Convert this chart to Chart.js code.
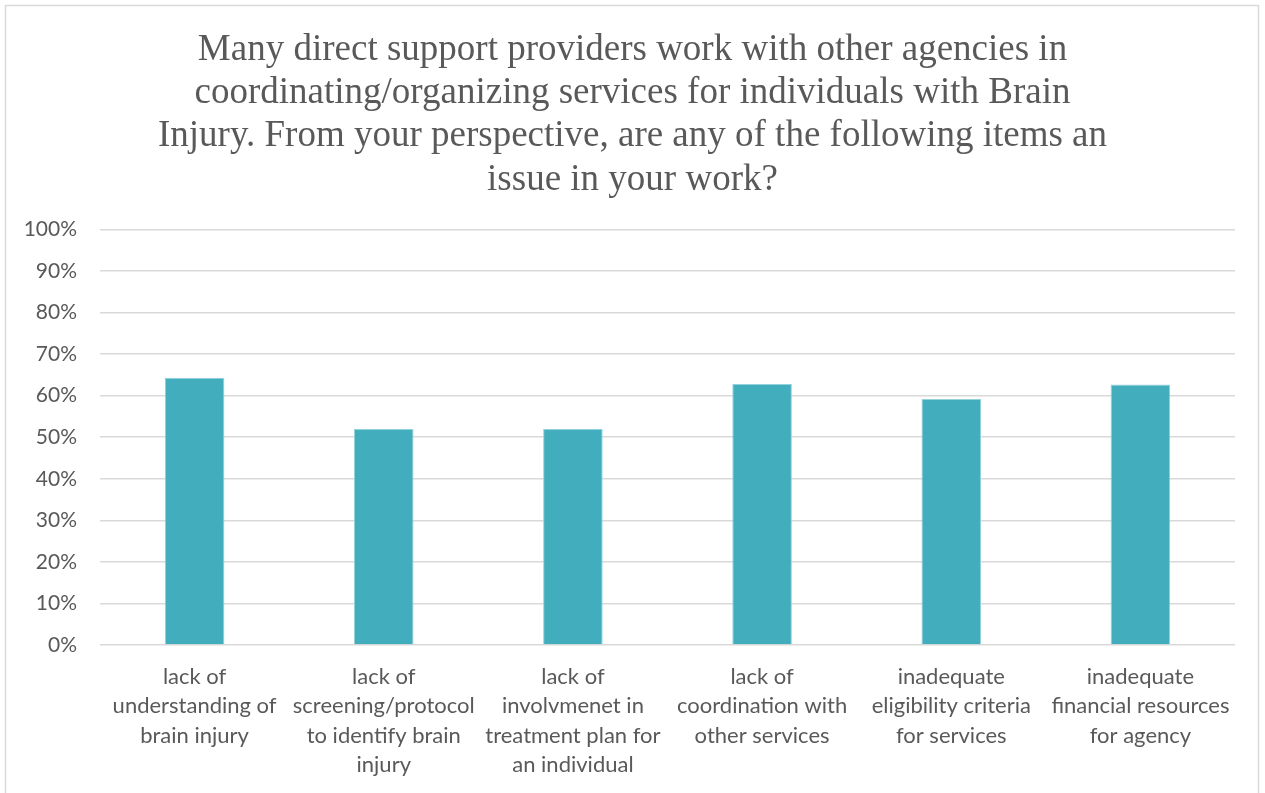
<!DOCTYPE html>
<html>
<head>
<meta charset="utf-8">
<script src="https://cdn.jsdelivr.net/npm/chart.js@4"></script>
<style>
    html, body { margin: 0; padding: 0; background: #fff; }
    #wrap { width: 1265px; height: 793px; }
</style>
</head>
<body>
<div id="wrap"><canvas id="myChart" width="1265" height="793"></canvas></div>
<script>
const titleLines = [
    'Many direct support providers work with other agencies in',
    'coordinating/organizing services for individuals with Brain',
    'Injury. From your perspective, are any of the following items an',
    'issue in your work?'
];

const categories = [
    ['lack of', 'understanding of', 'brain injury'],
    ['lack of', 'screening/protocol', 'to identify brain', 'injury'],
    ['lack of', 'involvmenet in', 'treatment plan for', 'an individual'],
    ['lack of', 'coordination with', 'other services'],
    ['inadequate', 'eligibility criteria', 'for services'],
    ['inadequate', 'financial resources', 'for agency']
];

const percentYes = [64.3, 52.0, 52.0, 62.8, 59.2, 62.7];

const yTicks = [0, 10, 20, 30, 40, 50, 60, 70, 80, 90, 100];

const textColor = '#595959';
const gridColor = '#d9d9d9';

// thin frame round the whole chart, open at the bottom
const framePlugin = {
    id: 'frame',
    beforeDraw(chart) {
        const ctx = chart.ctx;
        ctx.save();
        ctx.fillStyle = '#fff';
        ctx.fillRect(0, 0, chart.width, chart.height);
        ctx.strokeStyle = gridColor;
        ctx.lineWidth = 1.5;
        ctx.strokeRect(5.5, 5.5, 1253, 820);
        ctx.restore();
    }
};

const ctx = document.getElementById('myChart').getContext('2d');
const myChart = new Chart(ctx, {
    type: 'bar',
    data: {
        labels: categories,
        datasets: [{
            data: percentYes,
            backgroundColor: '#41adbd',
            borderColor: '#93d2dc',
            borderWidth: 1,
            barPercentage: 0.315,
            categoryPercentage: 1
        }]
    },
    options: {
        responsive: false,
        animation: false,
        layout: { padding: 0 },
        plugins: {
            legend: { display: false },
            tooltip: { enabled: false },
            title: {
                display: true,
                text: titleLines,
                color: textColor,
                font: { family: '"Liberation Serif", "Times New Roman", serif', size: 37, weight: 'normal', lineHeight: 1.165 },
                padding: { top: 29, bottom: 28 }
            }
        },
        scales: {
            x: {
                grid: { display: false },
                border: { display: false },
                ticks: {
                    color: textColor,
                    font: { family: 'Lato, sans-serif', size: 22, lineHeight: 1.34 },
                    padding: 9,
                    maxRotation: 0,
                    autoSkip: false
                },
                afterFit(scale) { scale.height = 148; }
            },
            y: {
                min: 0,
                max: 100,
                afterBuildTicks(scale) {
                    scale.ticks = yTicks.map(v => ({ value: v }));
                },
                grid: { color: gridColor, lineWidth: 1.5, drawTicks: false },
                border: { display: false },
                ticks: {
                    color: textColor,
                    font: { family: 'Lato, sans-serif', size: 21 },
                    padding: 23,
                    callback: v => v + '%'
                },
                afterFit(scale) { scale.width = 100; }
            },
            // empty right-hand strip so the plot ends short of the frame
            spacer: {
                type: 'linear',
                position: 'right',
                display: true,
                grid: { display: false },
                border: { display: false },
                ticks: { display: false },
                afterFit(scale) { scale.width = 30; }
            }
        }
    },
    plugins: [framePlugin]
});
</script>
</body>
</html>
